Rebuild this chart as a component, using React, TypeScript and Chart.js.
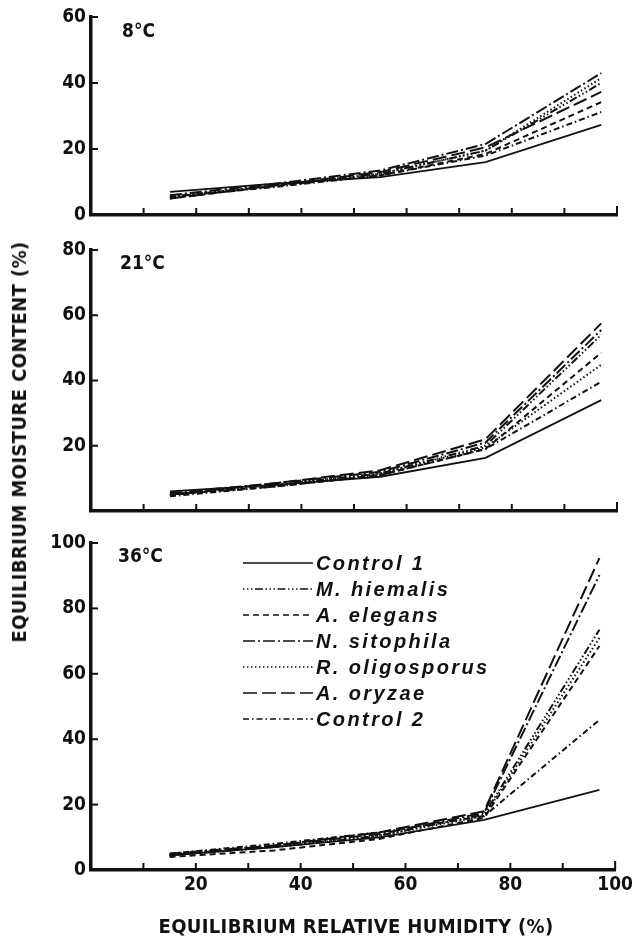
import React, { useEffect, useRef } from 'react';
import { Chart, registerables } from 'chart.js';

Chart.register(...registerables);

// Equilibrium relative humidity (%) of the sorption points
const humidity = [15, 35, 55, 75, 97];

const seriesNames = ['Control 1', 'M. hiemalis', 'A. elegans', 'N. sitophila', 'R. oligosporus', 'A. oryzae', 'Control 2'];

// 8 °C moisture content (%)
const t8Control1 = [7, 9.5, 11.5, 16, 27.3];
const t8Hiemalis = [5.5, 9, 12.5, 19.5, 40];
const t8Elegans = [5, 8.8, 12, 18.5, 34.2];
const t8Sitophila = [6, 9.5, 13.5, 21.5, 43];
const t8Oligosporus = [5.5, 9, 12.5, 19.5, 41.5];
const t8Oryzae = [5, 9, 13, 20.5, 37.3];
const t8Control2 = [5.5, 8.5, 12, 18, 31.2];

// 21 °C moisture content (%)
const t21Control1 = [6, 8, 10.5, 16.3, 34];
const t21Hiemalis = [5, 8, 11.5, 20, 54];
const t21Elegans = [5, 7.5, 11, 19, 48.5];
const t21Sitophila = [5.5, 8.5, 12, 21, 55.5];
const t21Oligosporus = [5, 8, 11.5, 19.5, 44.8];
const t21Oryzae = [5, 8.5, 12.5, 22, 57.5];
const t21Control2 = [4.5, 7.5, 11, 19, 39.6];

// 36 °C moisture content (%)
const t36Control1 = [4.5, 7, 10, 15.3, 24.5];
const t36Hiemalis = [4.5, 7, 10.5, 17, 73.5];
const t36Elegans = [4, 6, 9.5, 16, 68.5];
const t36Sitophila = [5, 7.5, 11, 17.5, 90.2];
const t36Oligosporus = [4.5, 7, 10.5, 16.5, 71];
const t36Oryzae = [4.5, 7.5, 11.5, 18, 95.4];
const t36Control2 = [5, 8, 11.5, 16.5, 45.9];

const xTickLabels = [20, 40, 60, 80, 100];
const yTicks8 = [0, 20, 40, 60];
const yTicks21 = [20, 40, 60, 80];
const yTicks36 = [0, 20, 40, 60, 80, 100];

// line patterns, one per series (same order as seriesNames)
const dashPatterns: number[][] = [
  [],
  [1.5, 2.5, 1.5, 2.5, 1.5, 2.5, 8, 2.5],
  [6, 4],
  [12, 3, 2, 3],
  [1.5, 2.5],
  [14, 5],
  [6, 3, 1.5, 3],
];

const W = 637;
const H = 939;
const CONDENSED = "'DejaVu Sans Condensed', 'DejaVu Sans', sans-serif";

const innerTicks = {
  id: 'innerTicks',
  afterDraw(chart: any) {
    const { ctx, chartArea, scales } = chart;
    ctx.save();
    ctx.strokeStyle = '#111';
    ctx.lineWidth = 2;
    ctx.setLineDash([]);
    scales.x.ticks.forEach((t: any) => {
      if (t.value === 0) return;
      const px = scales.x.getPixelForValue(t.value);
      ctx.beginPath();
      ctx.moveTo(px, chartArea.bottom);
      ctx.lineTo(px, chartArea.bottom - (t.value === 100 ? 9 : 7));
      ctx.stroke();
    });
    scales.y.ticks.forEach((t: any) => {
      if (t.value === 0) return;
      const py = scales.y.getPixelForValue(t.value);
      ctx.beginPath();
      ctx.moveTo(chartArea.left, py);
      ctx.lineTo(chartArea.left + 7, py);
      ctx.stroke();
    });
    ctx.restore();
  },
};

const seriesKey = {
  id: 'seriesKey',
  afterDraw(chart: any, _args: any, opts: any) {
    if (!opts || !opts.show) return;
    const ctx = chart.ctx;
    ctx.save();
    chart.data.datasets.forEach((ds: any, i: number) => {
      const y = opts.top + i * opts.rowGap;
      ctx.strokeStyle = '#111';
      ctx.lineWidth = 1.5;
      ctx.setLineDash(ds.borderDash || []);
      ctx.beginPath();
      ctx.moveTo(opts.left, y);
      ctx.lineTo(opts.left + opts.sample, y);
      ctx.stroke();
      ctx.setLineDash([]);
      ctx.fillStyle = '#111';
      ctx.font = "italic bold 20px 'Liberation Sans', Arial, sans-serif";
      (ctx as any).letterSpacing = '2.4px';
      ctx.textBaseline = 'middle';
      ctx.textAlign = 'left';
      ctx.fillText(ds.label, opts.left + opts.sample + 3, y + 1);
    });
    ctx.restore();
  },
};

type PanelSpec = {
  series: number[][];
  yMax: number;
  yLabels: number[];
  top: number;
  bottom: number;
  showX: boolean;
  key: boolean;
};

const panels: PanelSpec[] = [
  {
    series: [t8Control1, t8Hiemalis, t8Elegans, t8Sitophila, t8Oligosporus, t8Oryzae, t8Control2],
    yMax: 60, yLabels: yTicks8, top: 17, bottom: 215, showX: false, key: false,
  },
  {
    series: [t21Control1, t21Hiemalis, t21Elegans, t21Sitophila, t21Oligosporus, t21Oryzae, t21Control2],
    yMax: 80, yLabels: yTicks21, top: 250, bottom: 511, showX: false, key: false,
  },
  {
    series: [t36Control1, t36Hiemalis, t36Elegans, t36Sitophila, t36Oligosporus, t36Oryzae, t36Control2],
    yMax: 100, yLabels: yTicks36, top: 543, bottom: 870, showX: true, key: true,
  },
];

function Panel({ spec }: { spec: PanelSpec }) {
  const ref = useRef<HTMLCanvasElement | null>(null);
  useEffect(() => {
    if (!ref.current) return;
    const xAxisHeight = spec.showX ? 30 : 0;
    const chart = new Chart(ref.current, {
      type: 'line',
      data: {
        datasets: spec.series.map((vals, i) => ({
          label: seriesNames[i],
          data: humidity.map((h, j) => ({ x: h, y: vals[j] })),
          borderColor: '#111',
          borderWidth: i === 0 ? 1.8 : 2,
          borderDash: dashPatterns[i],
          pointRadius: 0,
          tension: 0,
          fill: false,
        })),
      },
      options: {
        responsive: false,
        animation: false,
        devicePixelRatio: 1,
        layout: {
          padding: { left: 0, right: 20, top: spec.top, bottom: H - spec.bottom - xAxisHeight },
        },
        plugins: {
          legend: { display: false },
          tooltip: { enabled: false },
          seriesKey: { show: spec.key, left: 243, top: 563, rowGap: 26, sample: 70 },
        } as any,
        scales: {
          x: {
            type: 'linear',
            min: 0,
            max: 100,
            afterFit: (s: any) => { s.height = xAxisHeight; },
            ticks: {
              display: spec.showX,
              stepSize: 10,
              padding: 4,
              color: '#111',
              font: { family: CONDENSED, weight: 'bold', size: 19 },
              maxRotation: 0,
              autoSkip: false,
              callback: (v: any) => (xTickLabels.includes(Number(v)) ? String(v) : ''),
            },
            grid: { display: true, drawOnChartArea: false, drawTicks: false, color: 'rgba(0,0,0,0)' },
            border: { display: true, color: '#111', width: 3.5 },
          },
          y: {
            type: 'linear',
            min: 0,
            max: spec.yMax,
            afterFit: (s: any) => { s.width = 91; },
            ticks: {
              stepSize: 20,
              padding: 5,
              color: '#111',
              font: { family: CONDENSED, weight: 'bold', size: 19 },
              autoSkip: false,
              callback: (v: any) => (spec.yLabels.includes(Number(v)) ? String(v) : ''),
            },
            grid: { display: true, drawOnChartArea: false, drawTicks: false, color: 'rgba(0,0,0,0)' },
            border: { display: true, color: '#111', width: 3.5 },
          },
        },
      },
      plugins: [innerTicks, seriesKey],
    });
    return () => chart.destroy();
  }, [spec]);
  return (
    <canvas
      ref={ref}
      width={W}
      height={H}
      style={{ position: 'absolute', left: 0, top: 0, width: W, height: H }}
    />
  );
}

const textBase: React.CSSProperties = {
  position: 'absolute',
  fontFamily: CONDENSED,
  fontWeight: 'bold',
  color: '#111',
  whiteSpace: 'nowrap',
  lineHeight: 1,
};

export default function App() {
  return (
    <div style={{ position: 'absolute', left: 0, top: 0, width: W, height: H, background: '#fff', overflow: 'hidden' }}>
      {panels.map((p, i) => (
        <Panel key={i} spec={p} />
      ))}
      <div style={{ ...textBase, left: 122, top: 21, fontSize: 19 }}>8°C</div>
      <div style={{ ...textBase, left: 120, top: 253, fontSize: 19 }}>21°C</div>
      <div style={{ ...textBase, left: 118, top: 546, fontSize: 19 }}>36°C</div>
      <div
        style={{
          ...textBase,
          left: 19,
          top: 442,
          fontSize: 20,
          letterSpacing: '0.4px',
          transform: 'translate(-50%, -50%) rotate(-90deg)',
        }}
      >
        EQUILIBRIUM MOISTURE CONTENT (%)
      </div>
      <div
        style={{
          ...textBase,
          left: 356,
          top: 926,
          fontSize: 20,
          letterSpacing: '0.35px',
          transform: 'translate(-50%, -50%)',
        }}
      >
        EQUILIBRIUM RELATIVE HUMIDITY (%)
      </div>
    </div>
  );
}
